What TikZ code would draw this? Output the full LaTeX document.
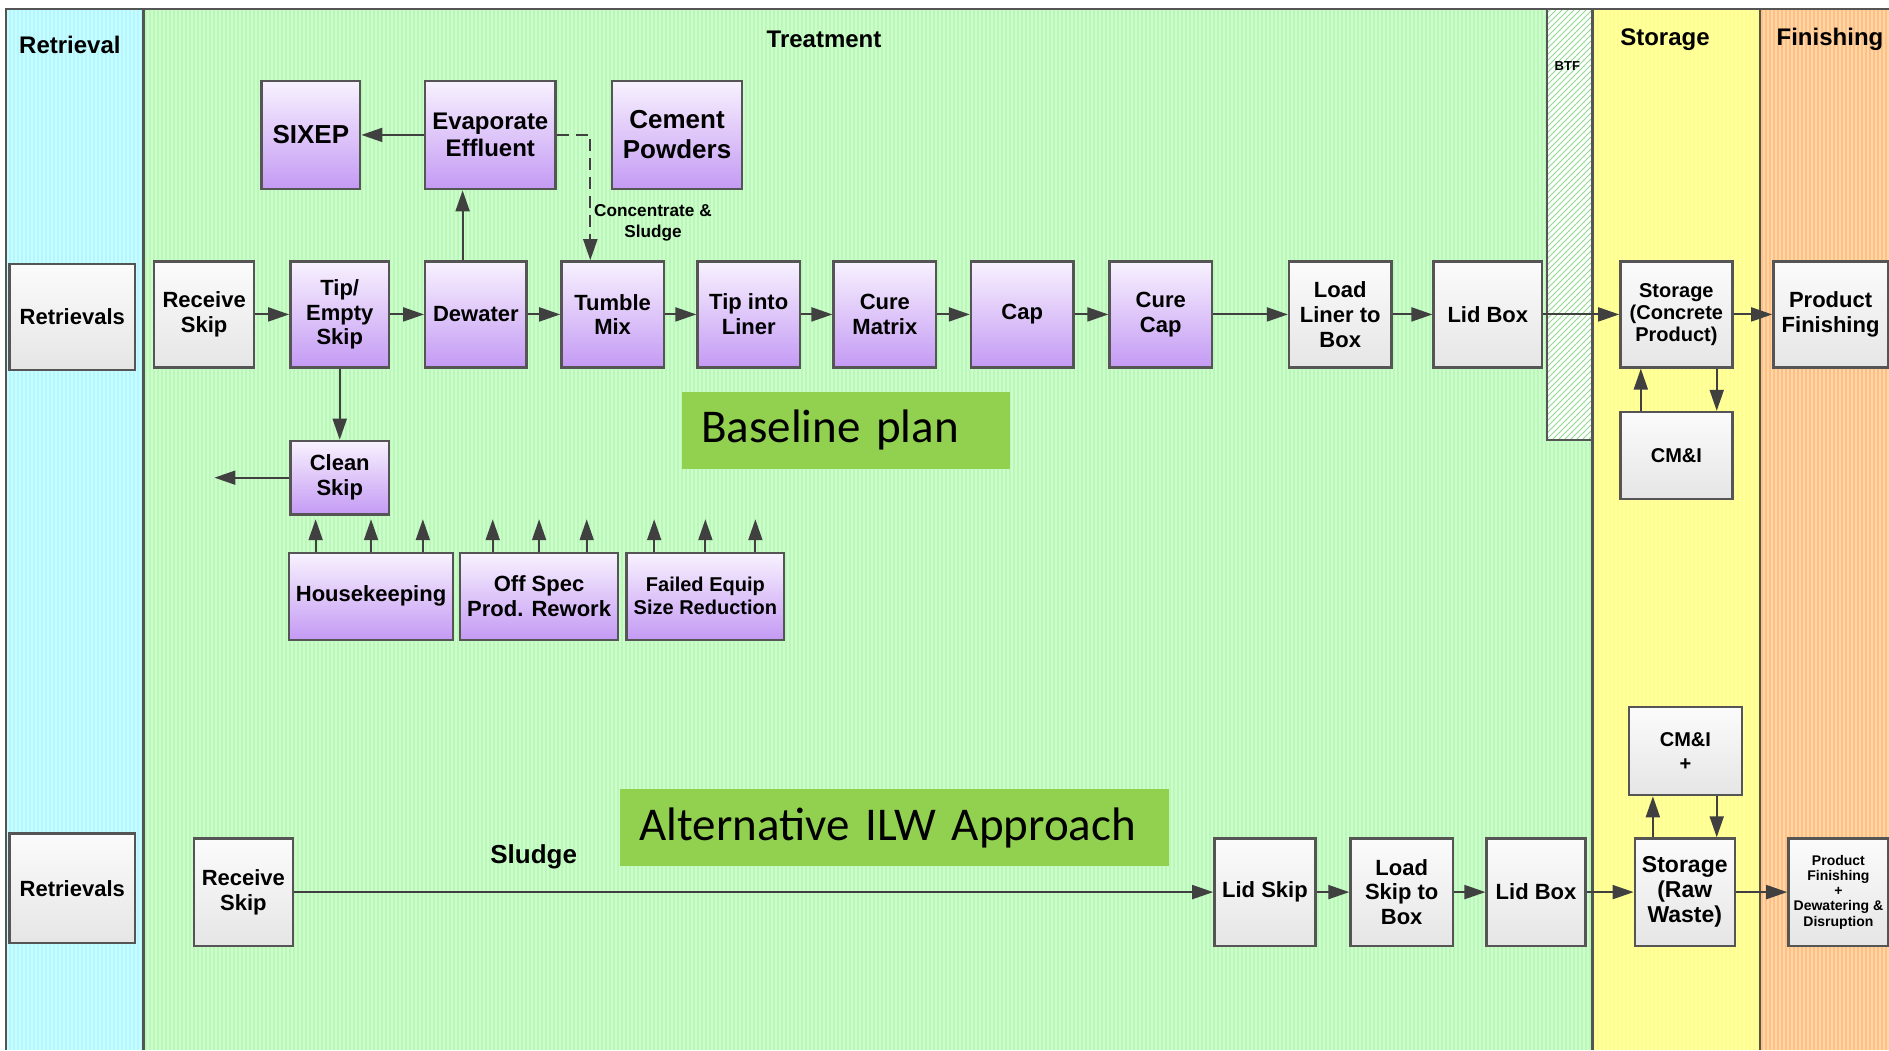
\documentclass[tikz,border=0pt]{standalone}
\usepackage{fontspec}
\setmainfont{Liberation Sans}
\newfontfamily\calibri{Carlito}
\usetikzlibrary{arrows.meta,calc,patterns}
\definecolor{edge}{HTML}{555555}
\definecolor{arrowc}{HTML}{404040}
\definecolor{retc}{HTML}{B0FAFF}
\definecolor{trc}{HTML}{B6FAB6}
\definecolor{stc}{HTML}{FFFF80}
\definecolor{fic}{HTML}{FFC080}
\definecolor{labgreen}{HTML}{92D050}
\definecolor{purpTop}{HTML}{F8F2FE}
\definecolor{purpBot}{HTML}{C49AF4}
\definecolor{hatchc}{HTML}{8FDA8F}
\tikzset{
  box/.style={draw=edge, line width=1.2pt, align=center, inner sep=1pt, font=\bfseries\fontsize{11}{12.4}\selectfont},
  gbox/.style={box, top color=gray!3, bottom color=gray!20},
  pbox/.style={box, top color=purpTop, bottom color=purpBot},
  sz/.style 2 args={minimum width=#1*0.60235pt, minimum height=#2*0.60235pt},
  arr/.style={draw=arrowc, line width=1pt, -{Triangle[length=10.5pt,width=7pt]}},
  darr/.style={arr, dash pattern=on 6pt off 3.5pt},
  laneline/.style={draw=edge, line width=1.2pt},
  title/.style={font=\bfseries\fontsize{12}{14}\selectfont},
  labbox/.style={fill=labgreen, font=\calibri\fontsize{23.5}{28}\selectfont, align=left, inner xsep=16*0.60235pt, inner ysep=0pt}
}
\begin{document}
\begin{tikzpicture}[x=0.60235pt,y=-0.60235pt]
\useasboundingbox (0,0) rectangle (1568,871.6);
% lanes
\fill[retc] (5,7.5) rectangle (119,871.6);
\fill[trc] (119,7.5) rectangle (1322,871.6);
\fill[stc] (1322,7.5) rectangle (1461,871.6);
\fill[fic] (1461,7.5) rectangle (1568,871.6);
\foreach \i in {0,...,470} \draw[white, opacity=.35, line width=0.8pt] ({6.6+3.32*\i},7.5) -- ++(0,864.1);
% BTF
\fill[white] (1284,7.5) rectangle (1322,365);
\fill[pattern=north east lines, pattern color=hatchc] (1284,7.5) rectangle (1322,365);
\draw[laneline] (1284,7.5) -- (1284,365) -- (1322,365);
\draw[laneline] (5,871.6) -- (5,7.5) -- (1568,7.5);
\draw[laneline] (119,7.5) -- (119,871.6);
\draw[laneline] (1322,7.5) -- (1322,871.6);
\draw[laneline] (1461,7.5) -- (1461,871.6);
% titles
\node[title] (tRet) at (58,37) {Retrieval};
\node[title] (tTre) at (684,33) {Treatment};
\node[title] (tSto) at (1382,33) {Storage};
\node[title] (tFin) at (1519,33) {Finishing};
\node[font=\bfseries\fontsize{6.5}{7}\selectfont] (tBTF) at (1301,55) {BTF};
% baseline row
\node[gbox, sz={104}{88}] (ret1) at (60,263) {Retrievals};
\node[gbox, sz={83}{88}] (rs1) at (169.5,261) {Receive\\Skip};
\node[pbox, sz={82}{88}] (tip) at (282,261) {Tip/\\Empty\\Skip};
\node[pbox, sz={84}{88}] (dew) at (395,261) {Dewater};
\node[pbox, sz={85}{88}] (tum) at (508.5,261) {Tumble\\Mix};
\node[pbox, sz={85}{88}] (lin) at (621.5,261) {Tip into\\Liner};
\node[pbox, sz={85}{88}] (cmx) at (734.5,261) {Cure\\Matrix};
\node[pbox, sz={85}{88}] (cap) at (848.5,261) {Cap};
\node[pbox, sz={85}{88}] (ccp) at (963.5,261) {Cure\\Cap};
\node[gbox, sz={85}{88}] (llb) at (1112.5,261) {Load\\Liner to\\Box};
\node[gbox, sz={90}{88}] (lb1) at (1235,261) {Lid Box};
\node[gbox, sz={93}{88}, font=\bfseries\fontsize{10}{11.1}\selectfont] (scp) at (1391.5,261) {Storage\\(Concrete\\Product)};
\node[gbox, sz={95}{88}] (pf1) at (1519.5,261) {Product\\Finishing};
\node[gbox, sz={93}{72}, font=\bfseries\fontsize{10}{12}\selectfont] (cmi1) at (1391.5,378) {CM\&I};
\node[pbox, sz={82}{90}, font=\bfseries\fontsize{13}{15}\selectfont] (six) at (258,112) {SIXEP};
\node[pbox, sz={108}{90}, font=\bfseries\fontsize{12}{13.9}\selectfont] (eva) at (407,112) {Evaporate\\Effluent};
\node[pbox, sz={108}{90}, font=\bfseries\fontsize{13}{15}\selectfont] (cem) at (562,112) {Cement\\Powders};
\node[pbox, sz={82}{61}] (cln) at (282,396.5) {Clean\\Skip};
\node[pbox, sz={136}{72}] (hk) at (308,495) {Housekeeping};
\node[pbox, sz={131}{72}] (osp) at (447.5,495) {Off Spec\\Prod. Rework};
\node[pbox, sz={131}{72}, font=\bfseries\fontsize{10}{11.5}\selectfont] (feq) at (585.5,495) {Failed Equip\\Size Reduction};
\node[font=\bfseries\fontsize{8.6}{10.2}\selectfont, align=center] (conc) at (542,185) {Concentrate \&\\Sludge};
\node[labbox, text width=240*0.60235pt, minimum height=64*0.60235pt] (bpl) at (702,357) {Baseline plan};
% alternative row
\node[gbox, sz={104}{91}] (ret2) at (60,737.5) {Retrievals};
\node[gbox, sz={82}{89}] (rs2) at (202,740.5) {Receive\\Skip};
\node[gbox, sz={84}{89}] (lsk) at (1050,740.5) {Lid Skip};
\node[gbox, sz={85}{89}] (lsb) at (1163.5,740.5) {Load\\Skip to\\Box};
\node[gbox, sz={82}{89}] (lb2) at (1275,740.5) {Lid Box};
\node[gbox, sz={83}{89}, font=\bfseries\fontsize{11.5}{12.4}\selectfont] (srw) at (1398.5,740.5) {Storage\\(Raw\\Waste)};
\node[gbox, sz={94}{73}, font=\bfseries\fontsize{10}{12}\selectfont] (cmi2) at (1399,623.5) {CM\&I\\+};
\node[gbox, sz={83}{89}, font=\bfseries\fontsize{7}{7.6}\selectfont] (pf2) at (1526,740.5) {Product\\Finishing\\+\\Dewatering \&\\Disruption};
\node[font=\bfseries\fontsize{13}{15}\selectfont] (slu) at (443,711) {Sludge};
\node[labbox, text width=423*0.60235pt, minimum height=64*0.60235pt] (alt) at (742.5,687) {Alternative ILW Approach};
% connectors
\foreach \a/\b in {rs1/tip, tip/dew, dew/tum, tum/lin, lin/cmx, cmx/cap, cap/ccp, ccp/llb, llb/lb1, lb1/scp, scp/pf1, rs2/lsk, lsk/lsb, lsb/lb2, lb2/srw, srw/pf2}
  \draw[arr] (\a) -- (\b);
\draw[arr] ($(dew.north)+(-11,0)$) -- ($(eva.south)+(-23,0)$);
\draw[arr] (eva) -- (six);
\draw[darr] (eva.east) -| ($(tum.north)+(-18.5,0)$);
\draw[arr] (tip) -- (cln);
\coordinate (clnout) at (178,396.5);
\draw[arr] (cln) -- (clnout);
\foreach \n/\dx in {hk/-46, hk/0, hk/43, osp/-38.5, osp/0, osp/39.5, feq/-42.5, feq/0, feq/41.5}
  \draw[arr] ($(\n.north)+(\dx,0)$) -- ++(0,-27);
\draw[arr] ($(cmi1.north)+(-29.5,0)$) -- ($(scp.south)+(-29.5,0)$);
\draw[arr] ($(scp.south)+(33.5,0)$) -- ($(cmi1.north)+(33.5,0)$);
\draw[arr] ($(srw.north)+(-26.5,0)$) -- ($(cmi2.south)+(-27,0)$);
\draw[arr] ($(cmi2.south)+(26,0)$) -- ($(srw.north)+(26.5,0)$);
\end{tikzpicture}
\end{document}
